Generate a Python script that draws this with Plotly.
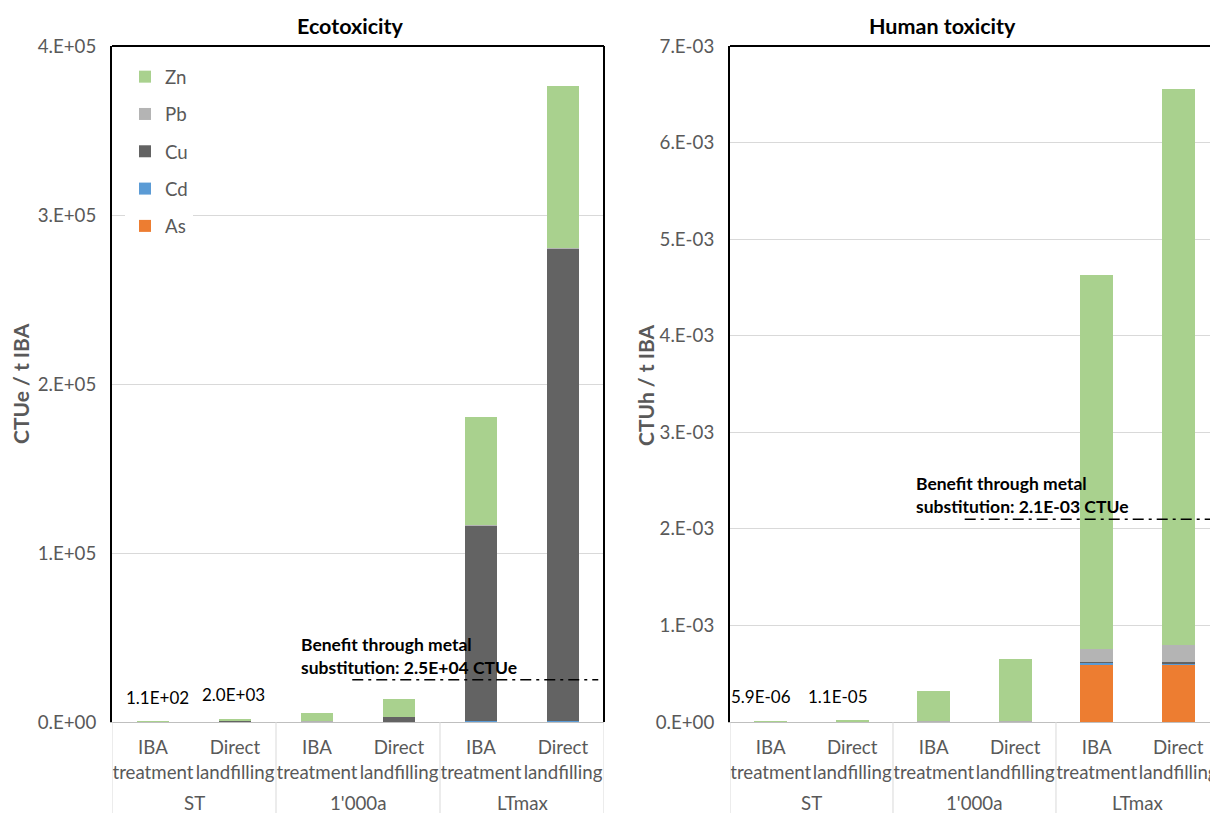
import plotly.graph_objects as go

# ---- data -----------------------------------------------------------------
scenarios = ["ST", "1'000a", "LTmax"]
routes = ["IBA<br>treatment", "Direct<br>landfilling"]
bar_labels = routes * 3          # ST-IBA, ST-Direct, 1'000a-IBA, ...
bar_pos = [0, 1, 2, 3, 4, 5]

metals = ["As", "Cd", "Cu", "Pb", "Zn"]          # stacking order, bottom to top
metal_colors = ["#ED7D31", "#5B9BD5", "#636363", "#B4B4B4", "#A9D18E"]
legend_rank = [5, 4, 3, 2, 1]                    # Zn listed first

# Ecotoxicity, CTUe / t IBA
eco_as = [1, 10, 50, 100, 300, 300]
eco_cd = [1, 10, 20, 50, 100, 100]
eco_cu = [35, 650, 300, 3000, 116000, 280000]
eco_pb = [3, 30, 30, 100, 200, 200]
eco_zn = [70, 1300, 4900, 10500, 64000, 96000]
eco_benefit = 2.5e4

# Human toxicity, CTUh / t IBA
ht_as = [1.5e-6, 2.5e-6, 2e-6, 4e-6, 6.0e-4, 6.0e-4]
ht_cd = [0.2e-6, 0.5e-6, 1e-6, 2e-6, 1.5e-5, 3e-6]
ht_cu = [0.2e-6, 0.5e-6, 1e-6, 2e-6, 5e-6, 1.5e-5]
ht_pb = [0.5e-6, 1.0e-6, 2e-6, 4e-6, 1.35e-4, 1.8e-4]
ht_zn = [3.5e-6, 6.5e-6, 3.1e-4, 6.4e-4, 3.87e-3, 5.76e-3]
ht_benefit = 2.1e-3

eco_ticks = [0, 1e5, 2e5, 3e5, 4e5]
eco_ticktext = ["0.E+00", "1.E+05", "2.E+05", "3.E+05", "4.E+05"]
ht_ticks = [0, 1e-3, 2e-3, 3e-3, 4e-3, 5e-3, 6e-3, 7e-3]
ht_ticktext = ["0.E+00", "1.E-03", "2.E-03", "3.E-03", "4.E-03", "5.E-03", "6.E-03", "7.E-03"]

# ---- styling ----------------------------------------------------------------
FONT = "Lato"
GREY_TXT = "#595959"
W, H = 1210, 813

def px_x(p):
    return p / W

def px_y(p):
    return (H - p) / H

eco_series = [eco_as, eco_cd, eco_cu, eco_pb, eco_zn]
ht_series = [ht_as, ht_cd, ht_cu, ht_pb, ht_zn]

fig = go.Figure()

for name, color, rank, vals in zip(metals, metal_colors, legend_rank, eco_series):
    fig.add_trace(go.Bar(
        x=bar_pos, y=vals, name=name, marker_color=color, marker_line_width=0,
        legendgroup=name, legendrank=rank, showlegend=True, xaxis="x", yaxis="y",
    ))
for name, color, vals in zip(metals, metal_colors, ht_series):
    fig.add_trace(go.Bar(
        x=bar_pos, y=vals, name=name, marker_color=color, marker_line_width=0,
        legendgroup=name, showlegend=False, xaxis="x2", yaxis="y2",
    ))

# benefit lines
fig.add_trace(go.Scatter(
    x=[2.43, 5.43], y=[eco_benefit, eco_benefit], mode="lines",
    line=dict(color="black", width=1.5, dash="11px,5px,3px,5px"),
    showlegend=False, hoverinfo="skip", xaxis="x", yaxis="y",
))
fig.add_trace(go.Scatter(
    x=[2.38, 5.39], y=[ht_benefit, ht_benefit], mode="lines",
    line=dict(color="black", width=1.5, dash="11px,5px,3px,5px"),
    showlegend=False, hoverinfo="skip", xaxis="x2", yaxis="y2",
))

y_dom = [px_y(722), px_y(46)]
x1_dom = [px_x(112), px_x(604)]
x2_dom = [px_x(730), 1.0]

tickfont = dict(family=FONT, size=18.7, color=GREY_TXT)

xcommon = dict(
    tickmode="array", tickvals=bar_pos, ticktext=bar_labels, tickfont=tickfont,
    tickangle=0, showline=True, linecolor="#BFBFBF", linewidth=1, showgrid=False,
    zeroline=False, ticks="", fixedrange=True, automargin=False,
    ticklabelstandoff=9, ticklabeloverflow="allow",
)
ycommon = dict(
    tickmode="array", tickfont=tickfont, showline=True, linecolor="black",
    linewidth=2, showgrid=True, gridcolor="#D9D9D9", gridwidth=1,
    zeroline=False, ticks="", ticklabelstandoff=10, fixedrange=True,
    automargin=False,
)

fig.update_layout(
    width=W, height=H,
    margin=dict(l=0, r=0, t=0, b=0, pad=0, autoexpand=False),
    paper_bgcolor="white", plot_bgcolor="white",
    barmode="stack", bargap=0.6,
    font=dict(family=FONT, size=18, color=GREY_TXT),
    xaxis=dict(domain=x1_dom, range=[-0.5, 5.5], anchor="y", **xcommon),
    yaxis=dict(domain=y_dom, range=[0, 4e5], anchor="x",
               tickvals=eco_ticks, ticktext=eco_ticktext, **ycommon),
    xaxis2=dict(domain=x2_dom, range=[-0.5, 5.39], anchor="y2", **xcommon),
    yaxis2=dict(domain=y_dom, range=[0, 7e-3], anchor="x2",
                tickvals=ht_ticks, ticktext=ht_ticktext, **ycommon),
    legend=dict(
        x=px_x(125), y=px_y(58), xanchor="left", yanchor="top",
        orientation="v", traceorder="grouped", tracegroupgap=10,
        itemwidth=30, bgcolor="white",
        font=dict(family=FONT, size=18.7, color=GREY_TXT),
    ),
    showlegend=True,
)

shapes = []
# frame lines (top / right) of each plot area
for xr, yr, right in (("x domain", "y domain", True), ("x2 domain", "y2 domain", False)):
    shapes.append(dict(type="line", xref=xr, yref=yr, x0=0, x1=1, y0=1, y1=1,
                       line=dict(color="black", width=2)))
    if right:
        shapes.append(dict(type="line", xref=xr, yref=yr, x0=1, x1=1, y0=0, y1=1,
                           line=dict(color="black", width=2)))
# category dividers below the axis
for xr, edges in (("x", [-0.5, 1.5, 3.5, 5.5]), ("x2", [-0.5, 1.5, 3.5])):
    for e in edges:
        shapes.append(dict(type="line", xref=xr, yref="paper", x0=e, x1=e,
                           y0=0, y1=y_dom[0], line=dict(color="#D9D9D9", width=1)))
fig.update_layout(shapes=shapes)

ann = []
# scenario labels
for xr in ("x", "x2"):
    for i, s in enumerate(scenarios):
        ann.append(dict(x=2 * i + 0.5, y=px_y(803), xref=xr, yref="paper",
                        text=s, showarrow=False, font=tickfont,
                        xanchor="center", yanchor="middle"))
# titles
ann.append(dict(x=px_x(350), y=px_y(26), xref="paper", yref="paper",
                xanchor="center", yanchor="middle",
                text="<b>Ecotoxicity</b>", showarrow=False,
                font=dict(family=FONT, size=21.5, color="black")))
ann.append(dict(x=px_x(942), y=px_y(26), xref="paper", yref="paper",
                xanchor="center", yanchor="middle",
                text="<b>Human toxicity</b>", showarrow=False,
                font=dict(family=FONT, size=21.5, color="black")))
# axis titles
ann.append(dict(x=px_x(20), y=px_y(384), xref="paper", yref="paper",
                xanchor="center", yanchor="middle",
                text="<b>CTUe / t IBA</b>", textangle=-90, showarrow=False,
                font=dict(family=FONT, size=21, color=GREY_TXT)))
ann.append(dict(x=px_x(645), y=px_y(386), xref="paper", yref="paper",
                xanchor="center", yanchor="middle",
                text="<b>CTUh / t IBA</b>", textangle=-90, showarrow=False,
                font=dict(family=FONT, size=21, color=GREY_TXT)))
# benefit notes
ann.append(dict(x=1.79, y=eco_benefit, xref="x", yref="y", xanchor="left",
                yanchor="bottom", yshift=1, borderpad=0, align="left",
                text=f"<b>Benefit through metal<br>substitution: {eco_benefit:.1E} CTUe</b>",
                showarrow=False, font=dict(family=FONT, size=17.5, color="black")))
ann.append(dict(x=1.77, y=ht_benefit, xref="x2", yref="y2", xanchor="left",
                yanchor="bottom", yshift=1, borderpad=0, align="left",
                text=f"<b>Benefit through metal<br>substitution: {ht_benefit:.1E} CTUe</b>",
                showarrow=False, font=dict(family=FONT, size=17.5, color="black")))
# totals of the short-term bars
eco_tot = [sum(v) for v in zip(*eco_series)]
ht_tot = [sum(v) for v in zip(*ht_series)]
for i, dx in ((0, 4), (1, -2)):
    ann.append(dict(x=i, y=eco_tot[i], xref="x", yref="y", yanchor="bottom",
                    xanchor="center", yshift=12, xshift=dx,
                    text=f"{eco_tot[i]:.1E}", showarrow=False,
                    font=dict(family=FONT, size=17, color="black")))
for i, dx in ((0, -10), (1, -14)):
    ann.append(dict(x=i, y=ht_tot[i], xref="x2", yref="y2", yanchor="bottom",
                    xanchor="center", yshift=12, xshift=dx,
                    text=f"{ht_tot[i]:.1E}", showarrow=False,
                    font=dict(family=FONT, size=17, color="black")))
fig.update_layout(annotations=ann)

fig.write_html("out.html")
